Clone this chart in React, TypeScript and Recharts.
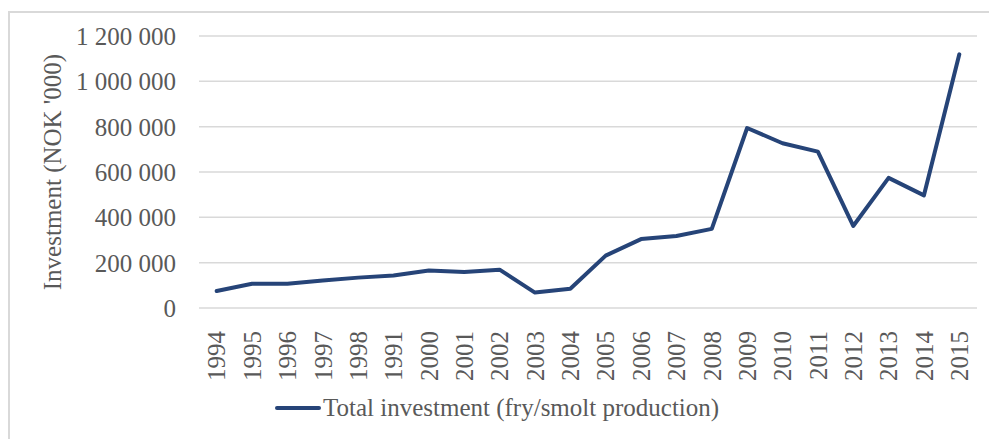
import { LineChart, Line, XAxis, YAxis, CartesianGrid, Legend } from "recharts";

const years = [
  "1994", "1995", "1996", "1997", "1998", "1991", "2000", "2001", "2002", "2003", "2004",
  "2005", "2006", "2007", "2008", "2009", "2010", "2011", "2012", "2013", "2014", "2015",
];

const investment = [
  75000, 107000, 107000, 121000, 134000, 143000, 165000, 159000, 169000, 68000, 85000,
  231000, 304000, 318000, 349000, 794000, 727000, 690000, 362000, 574000, 497000, 1119000,
];

const yTicks = [0, 200000, 400000, 600000, 800000, 1000000, 1200000];

const data = years.map((year, i) => ({ year, total: investment[i] }));

const FONT = "'Liberation Serif', 'Times New Roman', serif";
const GREY = "#595959";
const BLUE = "#264478";

const fmtNok = (n: number) => n.toLocaleString("en-US").replace(/,/g, " ");

function YearTick({ x, y, payload }: any) {
  return (
    <text
      x={x}
      y={y + 15}
      transform={`rotate(-90, ${x}, ${y + 15})`}
      textAnchor="end"
      dy="0.35em"
      fill={GREY}
      fontSize={25}
      fontFamily={FONT}
    >
      {payload.value}
    </text>
  );
}

function AxisTitle({ viewBox }: any) {
  const cx = viewBox.x + 52;
  const cy = viewBox.y + viewBox.height / 2;
  return (
    <text
      x={cx}
      y={cy}
      transform={`rotate(-90, ${cx}, ${cy})`}
      textAnchor="middle"
      dy="0.35em"
      fill={GREY}
      fontSize={25}
      fontFamily={FONT}
    >
      Investment (NOK '000)
    </text>
  );
}

function LegendBox() {
  return (
    <div style={{ display: "flex", alignItems: "center", paddingLeft: 275, paddingTop: 10, fontFamily: FONT }}>
      <span style={{ display: "inline-block", width: 46, height: 4, background: BLUE, borderRadius: 2 }} />
      <span style={{ marginLeft: 2, fontSize: 25, color: GREY }}>Total investment (fry/smolt production)</span>
    </div>
  );
}

export default function App() {
  return (
    <div style={{ position: "absolute", left: 0, top: 0, width: 989, height: 439, overflow: "hidden", background: "#fff" }}>
      <div
        style={{
          position: "absolute",
          left: 8,
          top: 11,
          width: 1100,
          height: 600,
          borderLeft: "2px solid #d9d9d9",
          borderTop: "2px solid #d9d9d9",
        }}
      />
      <div style={{ position: "absolute", left: 0, top: 0 }}>
        <LineChart width={989} height={439} data={data} margin={{ top: 36, right: 12, left: 0, bottom: 0 }}>
          <CartesianGrid vertical={false} stroke="#d9d9d9" strokeWidth={1.5} />
          <XAxis
            dataKey="year"
            scale="band"
            axisLine={false}
            tickLine={false}
            interval={0}
            height={76}
            tick={<YearTick />}
          />
          <YAxis
            width={199}
            domain={[0, 1200000]}
            ticks={yTicks}
            axisLine={false}
            tickLine={false}
            tickSize={0}
            tickMargin={23}
            tickFormatter={fmtNok}
            tick={{ fill: GREY, fontSize: 25, fontFamily: FONT }}
            label={<AxisTitle />}
          />
          <Legend verticalAlign="bottom" height={55} content={<LegendBox />} />
          <Line
            type="linear"
            dataKey="total"
            name="Total investment (fry/smolt production)"
            stroke={BLUE}
            strokeWidth={4}
            strokeLinejoin="round"
            strokeLinecap="round"
            dot={false}
            isAnimationActive={false}
          />
        </LineChart>
      </div>
    </div>
  );
}
